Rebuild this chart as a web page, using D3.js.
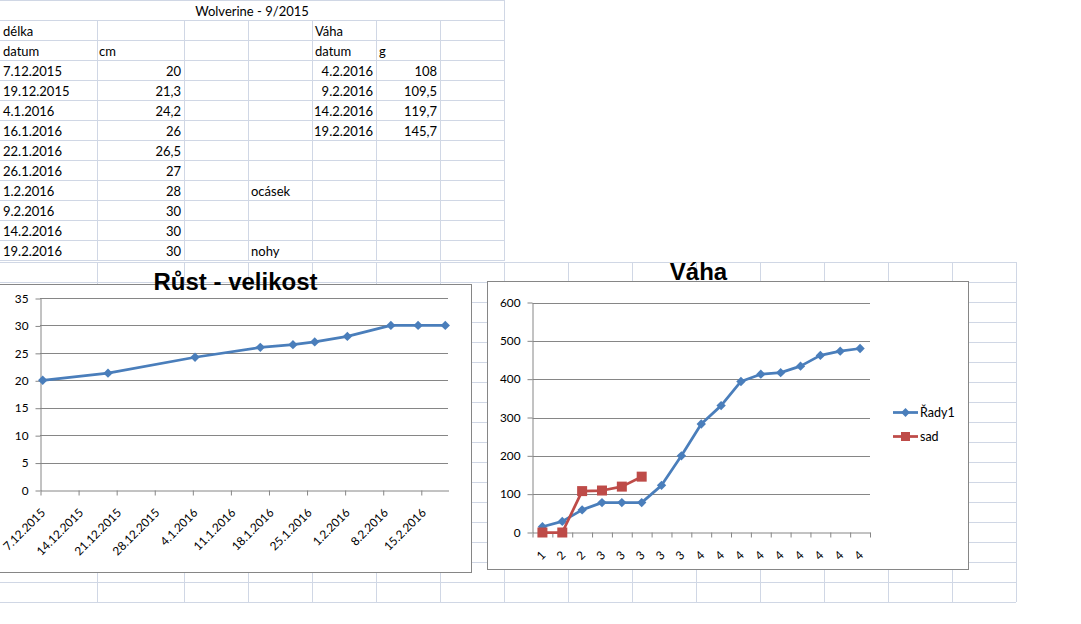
<html>
<head>
  <meta charset="utf-8">
  <title>Wolverine - 9/2015</title>
  <style>
    body { margin: 0; background: #fff; }
    svg { display: block; }
    .cell { font: 13px Lato, sans-serif; fill: #000; }
    .axis text { font: 11.8px Lato, sans-serif; fill: #000; }
    .axis path, .axis line { stroke: #868686; }
    .title { font: bold 24px "Liberation Sans", Arial, sans-serif; fill: #000; }
  </style>
  <script src="https://d3js.org/d3.v7.min.js"></script>
</head>
<body>
  <div id="chart"></div>
  <script>
    // sheet: length table
    var sheetTitle = "Wolverine - 9/2015";
    var lengthDates = ["7.12.2015", "19.12.2015", "4.1.2016", "16.1.2016", "22.1.2016",
                       "26.1.2016", "1.2.2016", "9.2.2016", "14.2.2016", "19.2.2016"];
    var lengthCm = [20, 21.3, 24.2, 26, 26.5, 27, 28, 30, 30, 30];
    var lengthNotes = ["", "", "", "", "", "", "ocásek", "", "", "nohy"];

    // sheet: weight table
    var weightDates = ["4.2.2016", "9.2.2016", "14.2.2016", "19.2.2016"];
    var weightG = [108, 109.5, 119.7, 145.7];

    // chart 1 axes
    var lengthTicks = ["7.12.2015", "14.12.2015", "21.12.2015", "28.12.2015", "4.1.2016", "11.1.2016",
                       "18.1.2016", "25.1.2016", "1.2.2016", "8.2.2016", "15.2.2016"];
    var lengthYTicks = [0, 5, 10, 15, 20, 25, 30, 35];

    // chart 2
    var weightCats = ["1", "2", "2", "3", "3", "3", "3", "3", "4", "4", "4", "4", "4", "4", "4", "4", "4"];
    var seriesNames = ["Řady1", "sad"];
    var rady1 = [15, 29, 59, 78, 78, 78, 123, 200, 283, 331, 394, 413, 417, 434, 462, 473, 480];
    var sad = [0, 0, 108, 109.5, 119.7, 145.7];
    var weightYTicks = [0, 100, 200, 300, 400, 500, 600];

    var W = 1081, H = 624;
    var gridColor = "#d0d7e5", axisColor = "#868686";
    var blue = "#4a7ebb", red = "#be4b48";
    var parse = d3.timeParse("%d.%m.%Y");
    var comma = function(v) { return String(v).replace(".", ","); };

    var svg = d3.select("#chart").append("svg")
        .attr("width", W)
        .attr("height", H);

    // ---- spreadsheet grid ----
    var cols = [0, 97, 184, 248, 312, 376, 440, 504, 568, 632, 696, 760, 824, 888, 952, 1016];
    var grid = svg.append("g").attr("stroke", gridColor).attr("stroke-width", 1);
    // upper table part
    for (var r = 0; r <= 13; r++) {
      grid.append("line").attr("x1", 0).attr("x2", 504).attr("y1", r * 20 + 0.5).attr("y2", r * 20 + 0.5);
    }
    cols.slice(1, 8).forEach(function(c) {
      grid.append("line").attr("x1", c + 0.5).attr("x2", c + 0.5)
          .attr("y1", c == 504 ? 0 : 20).attr("y2", 261);
    });
    // lower part (below split)
    for (var r2 = 0; r2 <= 17; r2++) {
      grid.append("line").attr("x1", 0).attr("x2", 1016).attr("y1", 262.5 + r2 * 20).attr("y2", 262.5 + r2 * 20);
    }
    cols.slice(1).forEach(function(c) {
      grid.append("line").attr("x1", c + 0.5).attr("x2", c + 0.5).attr("y1", 262).attr("y2", 602);
    });

    // ---- sheet text ----
    var cells = svg.append("g");
    function cell(txt, x, row, anchor) {
      cells.append("text").attr("class", "cell")
          .attr("x", x).attr("y", row * 20 + 15.5)
          .attr("text-anchor", anchor || "start")
          .text(txt);
    }
    cell(sheetTitle, 252, 0, "middle");
    cell("délka", 3, 1);
    cell("Váha", 315, 1);
    cell("datum", 3, 2);
    cell("cm", 99, 2);
    cell("datum", 315, 2);
    cell("g", 379, 2);
    lengthDates.forEach(function(d, i) {
      cell(d, 3, i + 3);
      cell(comma(lengthCm[i]), 181, i + 3, "end");
      if (lengthNotes[i]) cell(lengthNotes[i], 251, i + 3);
    });
    weightDates.forEach(function(d, i) {
      cell(d, 373, i + 3, "end");
      cell(comma(weightG[i]), 437, i + 3, "end");
    });

    // ---- chart 1: Růst - velikost ----
    var c1 = svg.append("g");
    c1.append("rect").attr("x", -2).attr("y", 284.5).attr("width", 473.5).attr("height", 288)
        .attr("fill", "#fff").attr("stroke", axisColor);

    var x1 = d3.scaleTime()
        .domain([parse("7.12.2015"), parse("20.2.2016")])
        .range([40, 448]);
    var y1 = d3.scaleLinear().domain([0, 35]).range([490, 298]);

    c1.append("g").selectAll("line").data(lengthYTicks.slice(1)).enter().append("line")
        .attr("x1", 40).attr("x2", 448)
        .attr("y1", function(d) { return Math.round(y1(d)) + 0.5; })
        .attr("y2", function(d) { return Math.round(y1(d)) + 0.5; })
        .attr("stroke", axisColor);

    c1.append("g").attr("class", "axis").attr("transform", "translate(40.5,0.5)")
        .call(d3.axisLeft(y1).tickValues(lengthYTicks).tickSize(5).tickPadding(7).tickSizeOuter(0));

    var xa1 = c1.append("g").attr("class", "axis").attr("transform", "translate(0.5,490.5)")
        .call(d3.axisBottom(x1).tickValues(lengthTicks.map(parse)).tickSize(5).tickSizeOuter(0)
              .tickFormat(function(d, i) { return lengthTicks[i]; }));
    xa1.selectAll("text")
        .attr("text-anchor", "end")
        .attr("transform", "translate(5,23) rotate(-45)")
        .attr("x", 0).attr("y", 0).attr("dy", 0);

    var pts1 = lengthDates.map(function(d, i) {
      return [x1(d3.timeHour.offset(parse(d), 12)), y1(lengthCm[i])];
    });
    c1.append("path").attr("d", d3.line()(pts1))
        .attr("fill", "none").attr("stroke", blue).attr("stroke-width", 2.75).attr("stroke-linejoin", "round");
    c1.append("g").selectAll("path").data(pts1).enter().append("path")
        .attr("d", d3.symbol(d3.symbolDiamond2, 56))
        .attr("transform", function(p) { return "translate(" + p[0] + "," + p[1] + ")"; })
        .attr("fill", blue);

    c1.append("text").attr("class", "title").attr("x", 235.5).attr("y", 290)
        .attr("text-anchor", "middle").text("Růst - velikost");

    // ---- chart 2: Váha ----
    var c2 = svg.append("g");
    c2.append("rect").attr("x", 487.5).attr("y", 281.5).attr("width", 481).attr("height", 288)
        .attr("fill", "#fff").attr("stroke", axisColor);

    var x2 = d3.scaleBand().domain(d3.range(weightCats.length)).range([532.5, 870]);
    var x2edge = d3.scaleLinear().domain([0, weightCats.length]).range([532.5, 870]);
    var y2 = d3.scaleLinear().domain([0, 600]).range([532.5, 302.5]);

    c2.append("g").selectAll("line").data(weightYTicks.slice(1)).enter().append("line")
        .attr("x1", 532.5).attr("x2", 870)
        .attr("y1", function(d) { return Math.round(y2(d)) + 0.5; })
        .attr("y2", function(d) { return Math.round(y2(d)) + 0.5; })
        .attr("stroke", axisColor);

    c2.append("g").attr("class", "axis").attr("transform", "translate(532.5,0)")
        .call(d3.axisLeft(y2).tickValues(weightYTicks).tickSize(5).tickPadding(7).tickSizeOuter(0));

    c2.append("g").attr("class", "axis").attr("transform", "translate(0,532.5)")
        .call(d3.axisBottom(x2edge).tickValues(d3.range(weightCats.length + 1)).tickSize(5)
              .tickSizeOuter(0).tickFormat(""));
    c2.append("g").attr("class", "axis").selectAll("text").data(weightCats).enter().append("text")
        .attr("transform", function(d, i) {
          return "translate(" + (x2(i) + x2.bandwidth() / 2 + 4) + ",556) rotate(-45)";
        })
        .attr("text-anchor", "end")
        .text(function(d) { return d; });

    var cx = function(i) { return x2(i) + x2.bandwidth() / 2; };
    var line2 = d3.line().x(function(d, i) { return cx(i); }).y(function(d) { return y2(d); });

    c2.append("path").attr("d", line2(rady1))
        .attr("fill", "none").attr("stroke", blue).attr("stroke-width", 2.75).attr("stroke-linejoin", "round");
    c2.append("g").selectAll("path").data(rady1).enter().append("path")
        .attr("d", d3.symbol(d3.symbolDiamond2, 56))
        .attr("transform", function(d, i) { return "translate(" + cx(i) + "," + y2(d) + ")"; })
        .attr("fill", blue);

    c2.append("path").attr("d", line2(sad))
        .attr("fill", "none").attr("stroke", red).attr("stroke-width", 2.75).attr("stroke-linejoin", "round");
    c2.append("g").selectAll("rect").data(sad).enter().append("rect")
        .attr("x", function(d, i) { return cx(i) - 5; })
        .attr("y", function(d) { return y2(d) - 5; })
        .attr("width", 10).attr("height", 10)
        .attr("fill", red);

    // legend
    var legend = c2.append("g").selectAll("g").data(seriesNames).enter().append("g")
        .attr("transform", function(d, i) { return "translate(893," + (412.5 + i * 24) + ")"; });
    legend.append("line").attr("x1", 0).attr("x2", 25)
        .attr("stroke", function(d, i) { return i ? red : blue; }).attr("stroke-width", 2.75);
    legend.append("path")
        .attr("d", function(d, i) { return i ? "M-4.5,-4.5h9v9h-9z" : d3.symbol(d3.symbolDiamond2, 50)(); })
        .attr("transform", "translate(12.5,0)")
        .attr("fill", function(d, i) { return i ? red : blue; });
    legend.append("text").attr("x", 27).attr("dy", "0.35em")
        .style("font", "12.5px Lato, sans-serif")
        .text(function(d) { return d; });

    c2.append("text").attr("class", "title").attr("x", 698.5).attr("y", 280)
        .attr("text-anchor", "middle").text("Váha");
  </script>
</body>
</html>
